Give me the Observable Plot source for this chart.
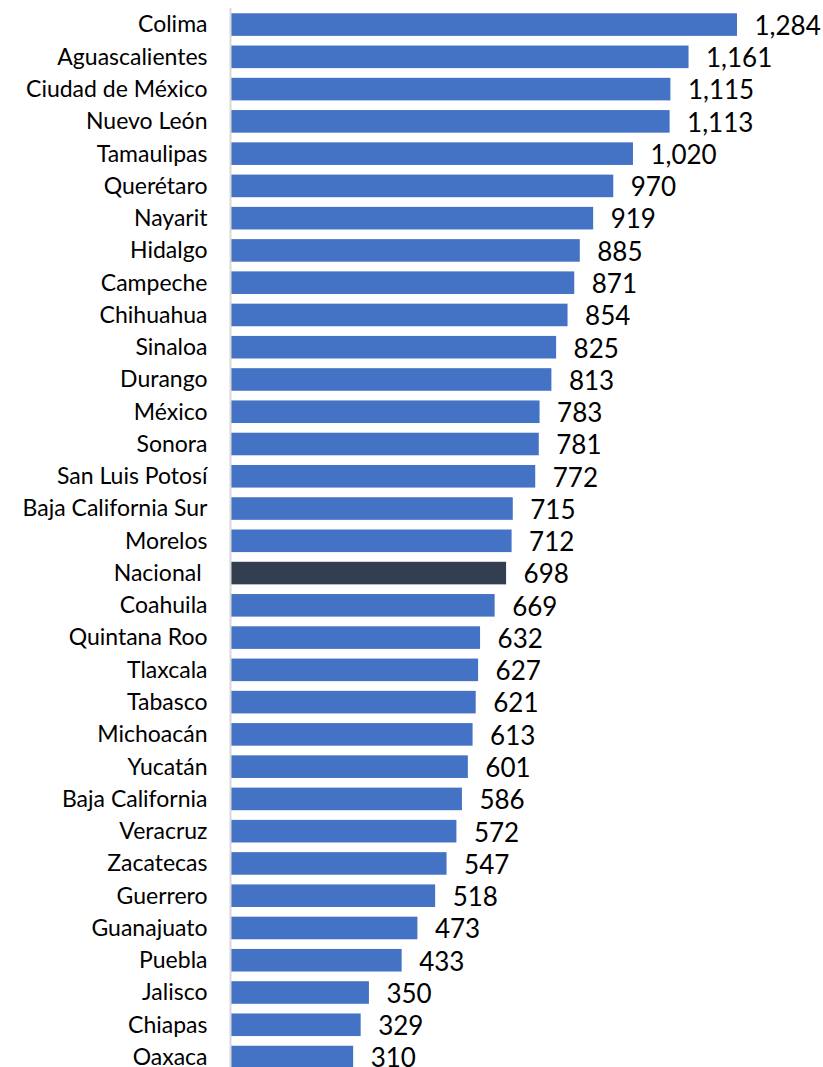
<!DOCTYPE html>
<html>
<head>
<meta charset="utf-8">
<script src="https://cdn.jsdelivr.net/npm/d3@7"></script>
<script src="https://cdn.jsdelivr.net/npm/@observablehq/plot@0.6"></script>
<style>
  html, body { margin: 0; padding: 0; background: #fff; }
</style>
</head>
<body>
<div id="chart"></div>
<script>
const states = ["Colima","Aguascalientes","Ciudad de México","Nuevo León","Tamaulipas","Querétaro","Nayarit","Hidalgo","Campeche","Chihuahua","Sinaloa","Durango","México","Sonora","San Luis Potosí","Baja California Sur","Morelos","Nacional","Coahuila","Quintana Roo","Tlaxcala","Tabasco","Michoacán","Yucatán","Baja California","Veracruz","Zacatecas","Guerrero","Guanajuato","Puebla","Jalisco","Chiapas","Oaxaca"];
const values = [1284,1161,1115,1113,1020,970,919,885,871,854,825,813,783,781,772,715,712,698,669,632,627,621,613,601,586,572,547,518,473,433,350,329,310];
const highlight = "Nacional";
const barColor = "#4472C4";
const highlightColor = "#333F50";

const data = states.map((s, i) => ({state: s, value: values[i]}));
const fmt = d3.format(",");

const chart = Plot.plot({
  width: 823,
  height: 1067,
  marginLeft: 231,
  marginRight: 86,
  marginTop: 8,
  marginBottom: 0,
  style: {fontFamily: "Lato, 'Open Sans', sans-serif", color: "#000", background: "#fff"},
  x: {domain: [0, 1284], axis: null},
  y: {domain: states, range: [3.6, 1078], padding: 0.3, round: false, label: null},
  marks: [
    Plot.barX(data, {x: "value", y: "state", fill: d => d.state === highlight ? highlightColor : barColor}),
    Plot.text(data, {x: "value", y: "state", text: d => fmt(d.value), textAnchor: "start", dx: 17, dy: 1.5, fontSize: 26, fill: "#000"}),
    Plot.axisY({tickSize: 0, tickPadding: 24, fontSize: 23, tickFormat: d => d === highlight ? d + "\u00a0" : d, fill: "#000"}),
    Plot.ruleX([0], {stroke: "#d9d9d9", strokeWidth: 2, dx: -1})
  ]
});
document.getElementById("chart").appendChild(chart);
</script>
</body>
</html>
